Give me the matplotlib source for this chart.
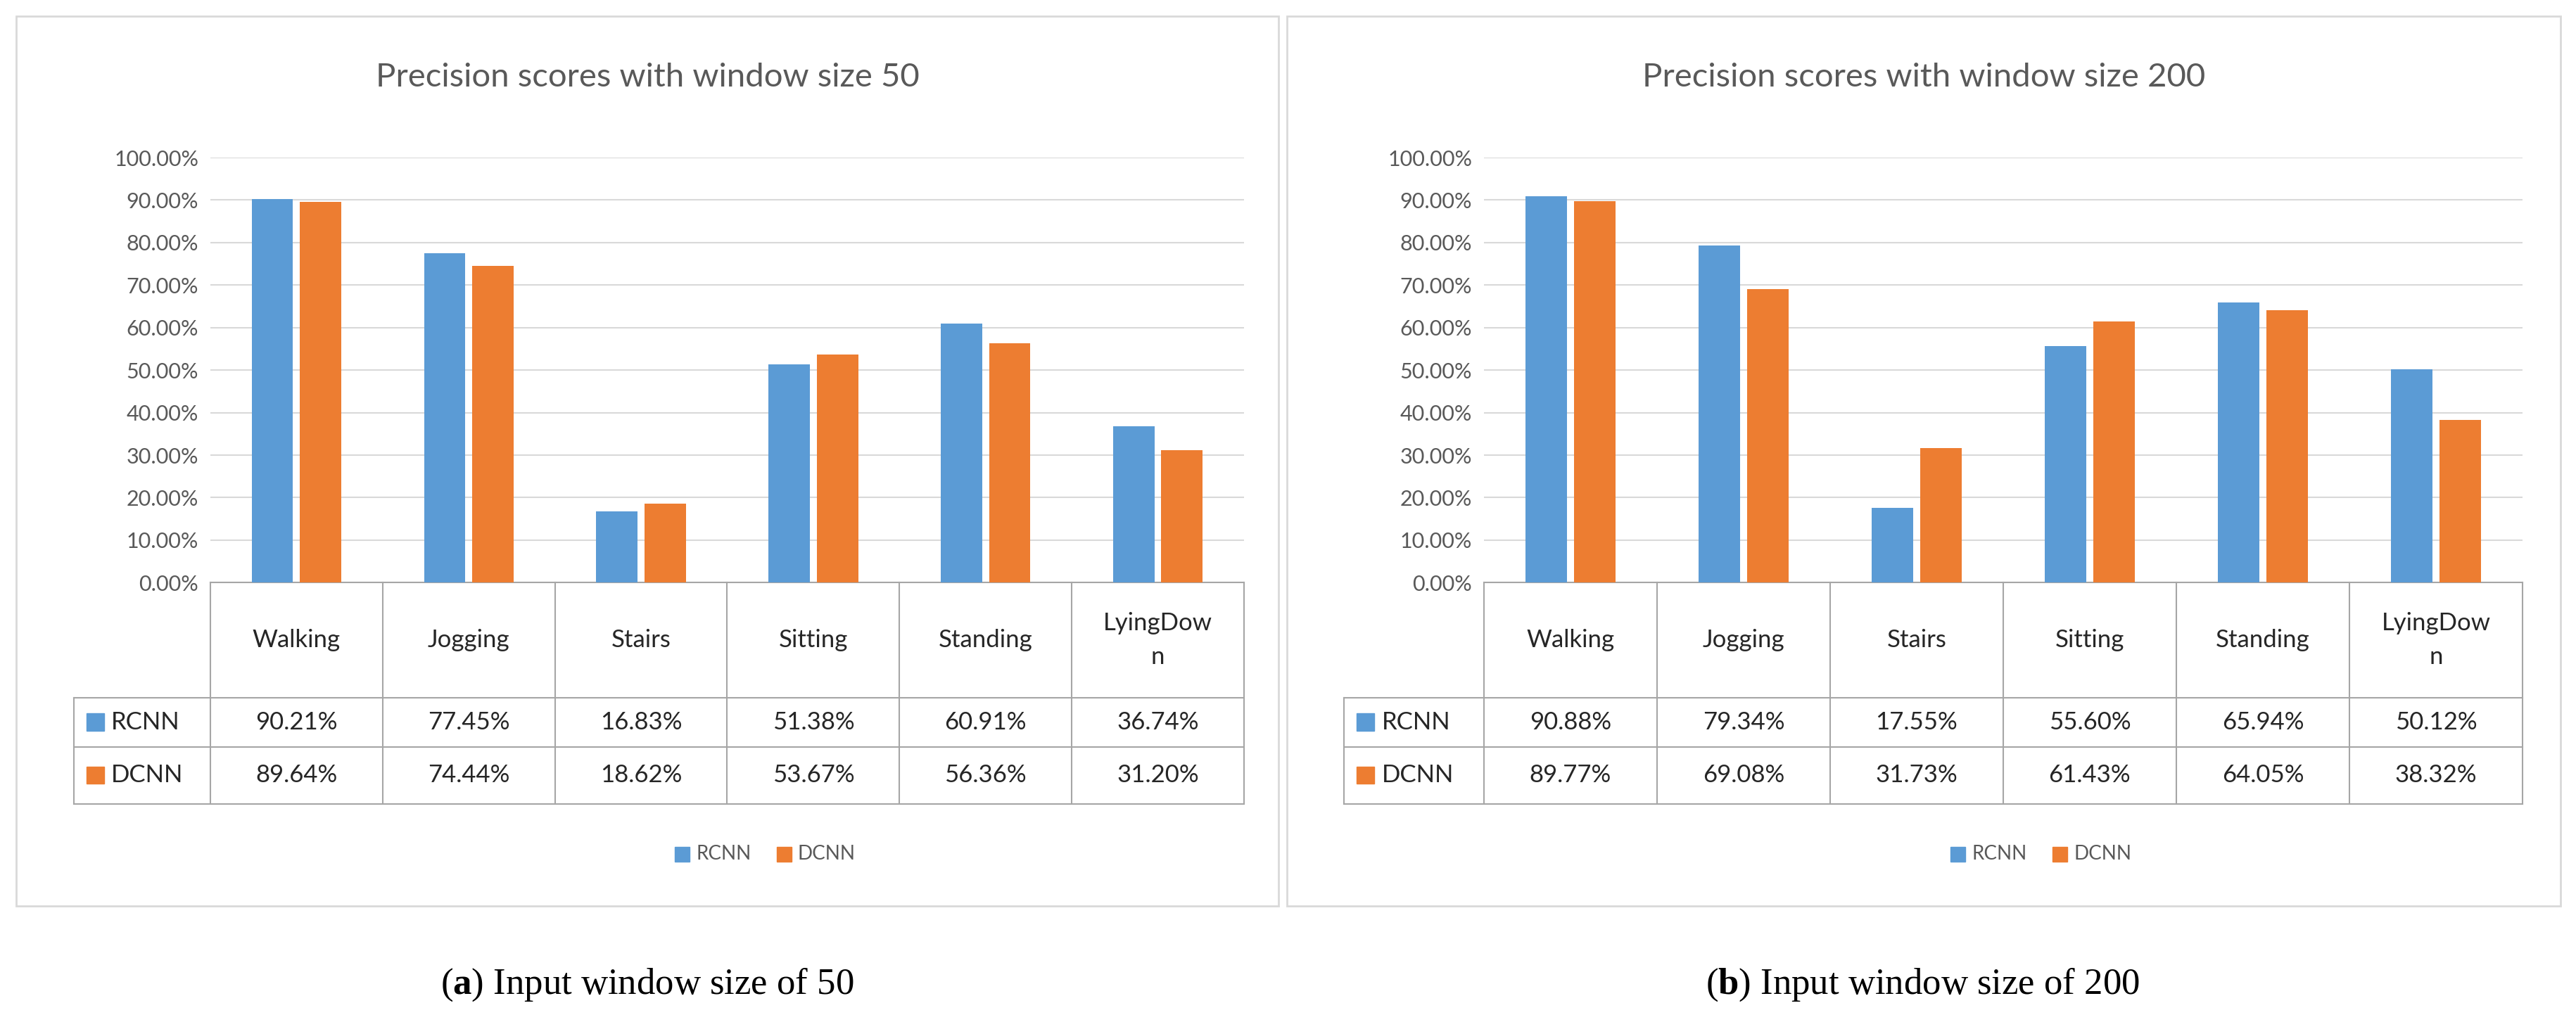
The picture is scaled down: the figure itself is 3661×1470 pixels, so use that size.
import matplotlib
matplotlib.use("Agg")
import matplotlib.pyplot as plt
from matplotlib.patches import Rectangle
from matplotlib.lines import Line2D
import numpy as np

plt.rcParams["mathtext.fontset"] = "custom"
plt.rcParams["mathtext.bf"] = "Liberation Serif:bold"

categories = ["Walking", "Jogging", "Stairs", "Sitting", "Standing", "LyingDow\nn"]
series_names = ["RCNN", "DCNN"]
rcnn_50 = [90.21, 77.45, 16.83, 51.38, 60.91, 36.74]
dcnn_50 = [89.64, 74.44, 18.62, 53.67, 56.36, 31.20]
rcnn_200 = [90.88, 79.34, 17.55, 55.60, 65.94, 50.12]
dcnn_200 = [89.77, 69.08, 31.73, 61.43, 64.05, 38.32]
titles = ["Precision scores with window size 50", "Precision scores with window size 200"]
captions = [("a", " Input window size of 50"), ("b", " Input window size of 200")]

W, H = 1568.0, 630.0
fig = plt.figure(figsize=(36.62, 14.70), dpi=100)
FONT = "Lato"
colors = ["#5B9BD5", "#ED7D31"]
tcol = "#595959"

def fx(x): return x / W
def fy(y): return 1 - y / H

panels = [
    dict(box=(10, 778), ax=(128, 757), data=(rcnn_50, dcnn_50), cap_x=394),
    dict(box=(783, 1558), ax=(903, 1535), data=(rcnn_200, dcnn_200), cap_x=1170),
]
for i, p in enumerate(panels):
    b0, b1 = p["box"]
    fig.patches.append(Rectangle((fx(b0), fy(552)), fx(b1 - b0), (552 - 10) / H,
                                 transform=fig.transFigure, fill=False, ec="#D9D9D9", lw=2))
    fig.text(fx((b0 + b1) / 2), fy(47), titles[i], ha="center", va="center",
             fontsize=34, color=tcol, family=FONT)
    a0, a1 = p["ax"]
    ax = fig.add_axes([fx(a0), fy(355), fx(a1 - a0), (355 - 96) / H])
    x = np.arange(6)
    for s, vals in enumerate(p["data"]):
        ax.bar(x + (s - 0.5) * 0.28, vals, width=0.24, color=colors[s], zorder=3)
    ax.set_xlim(-0.5, 5.5)
    ax.set_ylim(0, 100)
    ax.set_yticks(np.arange(0, 101, 10))
    ax.set_yticklabels([f"{v:.2f}%" for v in np.arange(0, 101, 10)], fontsize=22,
                       color=tcol, family=FONT)
    ax.yaxis.grid(True, color="#D9D9D9", lw=1.5, zorder=0)
    ax.set_xticks([])
    ax.tick_params(axis="y", length=0, pad=12)
    for sp in ax.spines.values():
        sp.set_visible(False)
    yh = -0.27; y1 = -0.386; y2 = -0.521; xl = (b0 + 35 - a0) / (a1 - a0)
    lc = "#A6A6A6"; lw = 1.5
    def L(xs, ys):
        ax.add_line(Line2D(xs, ys, color=lc, lw=lw, transform=ax.transAxes, clip_on=False))
    L([0, 1], [0, 0]); L([xl, 1], [yh, yh]); L([xl, 1], [y1, y1]); L([xl, 1], [y2, y2])
    L([xl, xl], [yh, y2])
    for k in range(7):
        L([k / 6, k / 6], [0, y2])
    for k, c in enumerate(categories):
        ax.text((k + 0.5) / 6, yh / 2, c, transform=ax.transAxes, ha="center", va="center",
                fontsize=25, color="#262626", family=FONT, linespacing=1.6)
    for s, (vals, yt, yb) in enumerate(zip(p["data"], [yh, y1], [y1, y2])):
        ym = (yt + yb) / 2
        ax.add_patch(Rectangle((xl + 0.012, ym - 0.02), 0.017, 0.04, color=colors[s],
                               transform=ax.transAxes, clip_on=False))
        ax.text(xl + 0.036, ym, series_names[s], transform=ax.transAxes, ha="left",
                va="center", fontsize=25, color="#262626", family=FONT)
        for k, v in enumerate(vals):
            ax.text((k + 0.5) / 6, ym, f"{v:.2f}%", transform=ax.transAxes, ha="center",
                    va="center", fontsize=25, color="#262626", family=FONT)
    cx = (a0 + a1) / 2 - 60
    for s in range(2):
        lx = cx + s * 62 + 28
        fig.patches.append(Rectangle((fx(lx), fy(525)), fx(9), 9 / H, color=colors[s],
                                     transform=fig.transFigure))
        fig.text(fx(lx + 13), fy(520.5), series_names[s], ha="left", va="center",
                 fontsize=20, color=tcol, family=FONT)
    lab, rest = captions[i]
    fig.text(fx(p["cap_x"]), fy(600), "(" + r"$\mathbf{" + lab + "}$" + ")" + rest,
             ha="center", va="center", fontsize=38, family="Liberation Serif")

fig.savefig("out.png", dpi=100, facecolor="white")
